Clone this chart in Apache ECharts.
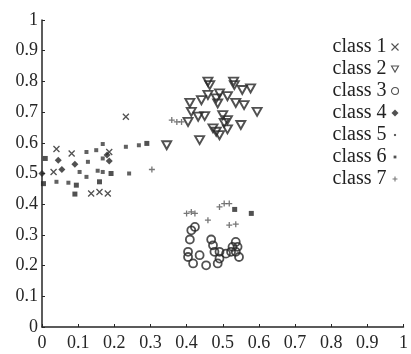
<!DOCTYPE html>
<html>
<head>
<meta charset="utf-8">
<script src="https://cdn.jsdelivr.net/npm/echarts@6/dist/echarts.min.js"></script>
<style>
html,body{margin:0;padding:0;background:#fff;}
#c{width:411px;height:354px;}
</style>
</head>
<body>
<div id="c"></div>
<script>
var classNames = ['class 1', 'class 2', 'class 3', 'class 4', 'class 5', 'class 6', 'class 7'];
var tickValues = [0, 0.1, 0.2, 0.3, 0.4, 0.5, 0.6, 0.7, 0.8, 0.9, 1];

var class1 = [[0.04,0.58],[0.082,0.565],[0.032,0.505],[0.136,0.435],[0.186,0.57],[0.159,0.44],[0.182,0.435],[0.232,0.685]];
var class2 = [[0.459,0.799],[0.464,0.788],[0.530,0.799],[0.532,0.788],[0.554,0.772],[0.577,0.777],
  [0.441,0.739],[0.459,0.756],[0.491,0.761],[0.513,0.752],[0.482,0.745],[0.486,0.728],
  [0.409,0.730],[0.536,0.730],[0.559,0.723],[0.413,0.701],[0.432,0.685],[0.45,0.687],
  [0.595,0.701],[0.5,0.69],[0.513,0.674],[0.504,0.665],[0.55,0.658],[0.473,0.647],
  [0.513,0.644],[0.482,0.636],[0.491,0.625],[0.404,0.668],[0.345,0.592],[0.436,0.609]];
var class3 = [[0.423,0.326],[0.413,0.315],[0.409,0.285],[0.468,0.285],[0.473,0.266],[0.404,0.245],
  [0.404,0.228],[0.418,0.207],[0.436,0.234],[0.454,0.201],[0.477,0.245],[0.491,0.245],
  [0.491,0.223],[0.486,0.207],[0.509,0.239],[0.523,0.245],[0.527,0.261],[0.536,0.277],
  [0.541,0.261],[0.536,0.245],[0.545,0.228]];
var class4 = [[0.091,0.53],[0.045,0.543],[0.18,0.56],[0.186,0.541],[0.055,0.513],[0.0,0.5]];
var class5 = [[0.123,0.57],[0.15,0.576],[0.168,0.596],[0.232,0.587],[0.268,0.592],[0.127,0.538],
  [0.168,0.549],[0.104,0.505],[0.123,0.489],[0.154,0.509],[0.168,0.505],[0.241,0.5],
  [0.073,0.47],[0.04,0.473]];
var class6 = [[0.009,0.549],[0.29,0.598],[0.191,0.5],[0.004,0.467],[0.095,0.462],[0.159,0.473],
  [0.091,0.433],[0.533,0.383],[0.579,0.370]];
var class7 = [[0.359,0.674],[0.373,0.668],[0.386,0.668],[0.4,0.37],[0.413,0.375],[0.423,0.37],
  [0.459,0.348],[0.491,0.391],[0.504,0.402],[0.518,0.402],[0.518,0.332],[0.536,0.335],[0.304,0.513]];

var dark = '#262626';
var crossPath = 'path://M0,0L10,10M0,10L10,0';
var triPath = 'path://M0,0L10,0L5,8.7Z';
var plusPath = 'path://M5,0L5,10M0,5L10,5';
var seriesDefs = [
  {data: class1, symbol: crossPath, size: 6, style: {color: 'none', borderColor: dark, borderWidth: 1.3},
    icon: crossPath, iconBorder: 1.1},
  {data: class2, symbol: triPath, size: [9, 8], style: {color: 'none', borderColor: dark, borderWidth: 1.9},
    icon: triPath, iconBorder: 1.1},
  {data: class3, symbol: 'circle', size: 8, style: {color: 'none', borderColor: dark, borderWidth: 1.8},
    icon: 'circle', iconBorder: 1.1},
  {data: class4, symbol: 'diamond', size: 7, style: {color: dark},
    icon: 'diamond'},
  {data: class5, symbol: 'rect', size: 4, style: {color: '#3a3a3a'},
    icon: 'path://M0,0M10,10M3.5,3.5L6.5,3.5L6.5,6.5L3.5,6.5Z'},
  {data: class6, symbol: 'rect', size: 5, style: {color: dark},
    icon: 'path://M0,0M10,10M3,3L7,3L7,7L3,7Z'},
  {data: class7, symbol: plusPath, size: 6, style: {color: 'none', borderColor: '#555', borderWidth: 1.3},
    icon: 'path://M0,0M10,10M5,1.5L5,8.5M1.5,5L8.5,5', iconBorder: 1.1}
];

var series = seriesDefs.map(function (d, i) {
  return {
    name: classNames[i],
    type: 'scatter',
    data: d.data,
    symbol: d.symbol,
    symbolSize: d.size,
    itemStyle: d.style
  };
});

var legendData = seriesDefs.map(function (d, i) {
  var item = {name: classNames[i], icon: d.icon};
  if (d.iconBorder) item.itemStyle = {borderWidth: d.iconBorder};
  return item;
});

var chart = echarts.init(document.getElementById('c'), null, {renderer: 'canvas'});
var font = '"Liberation Serif", "DejaVu Serif", serif';
chart.setOption({
  animation: false,
  backgroundColor: '#fff',
  grid: {left: 42, right: 3, top: 20, bottom: 27, containLabel: false},
  xAxis: {
    type: 'value', min: 0, max: 1, interval: 0.1,
    axisLine: {show: true, lineStyle: {color: dark, width: 1.5}},
    axisTick: {show: true, inside: true, length: 3, lineStyle: {color: dark}},
    splitLine: {show: false},
    axisLabel: {color: dark, fontFamily: font, fontSize: 18, margin: 7,
      formatter: function (v) { return String(Math.round(v * 10) / 10); }}
  },
  yAxis: {
    type: 'value', min: 0, max: 1, interval: 0.1,
    axisLine: {show: true, lineStyle: {color: dark, width: 1.5}},
    axisTick: {show: true, inside: true, length: 3, lineStyle: {color: dark}},
    splitLine: {show: false},
    axisLabel: {color: dark, fontFamily: font, fontSize: 18, margin: 4,
      formatter: function (v) { return String(Math.round(v * 10) / 10); }}
  },
  legend: {
    orient: 'vertical', right: 5, top: 32, align: 'right',
    itemWidth: 7, itemHeight: 7, itemGap: 2,
    data: legendData,
    textStyle: {color: '#222', fontFamily: font, fontSize: 20, lineHeight: 20}
  },
  series: series
});
</script>
</body>
</html>
